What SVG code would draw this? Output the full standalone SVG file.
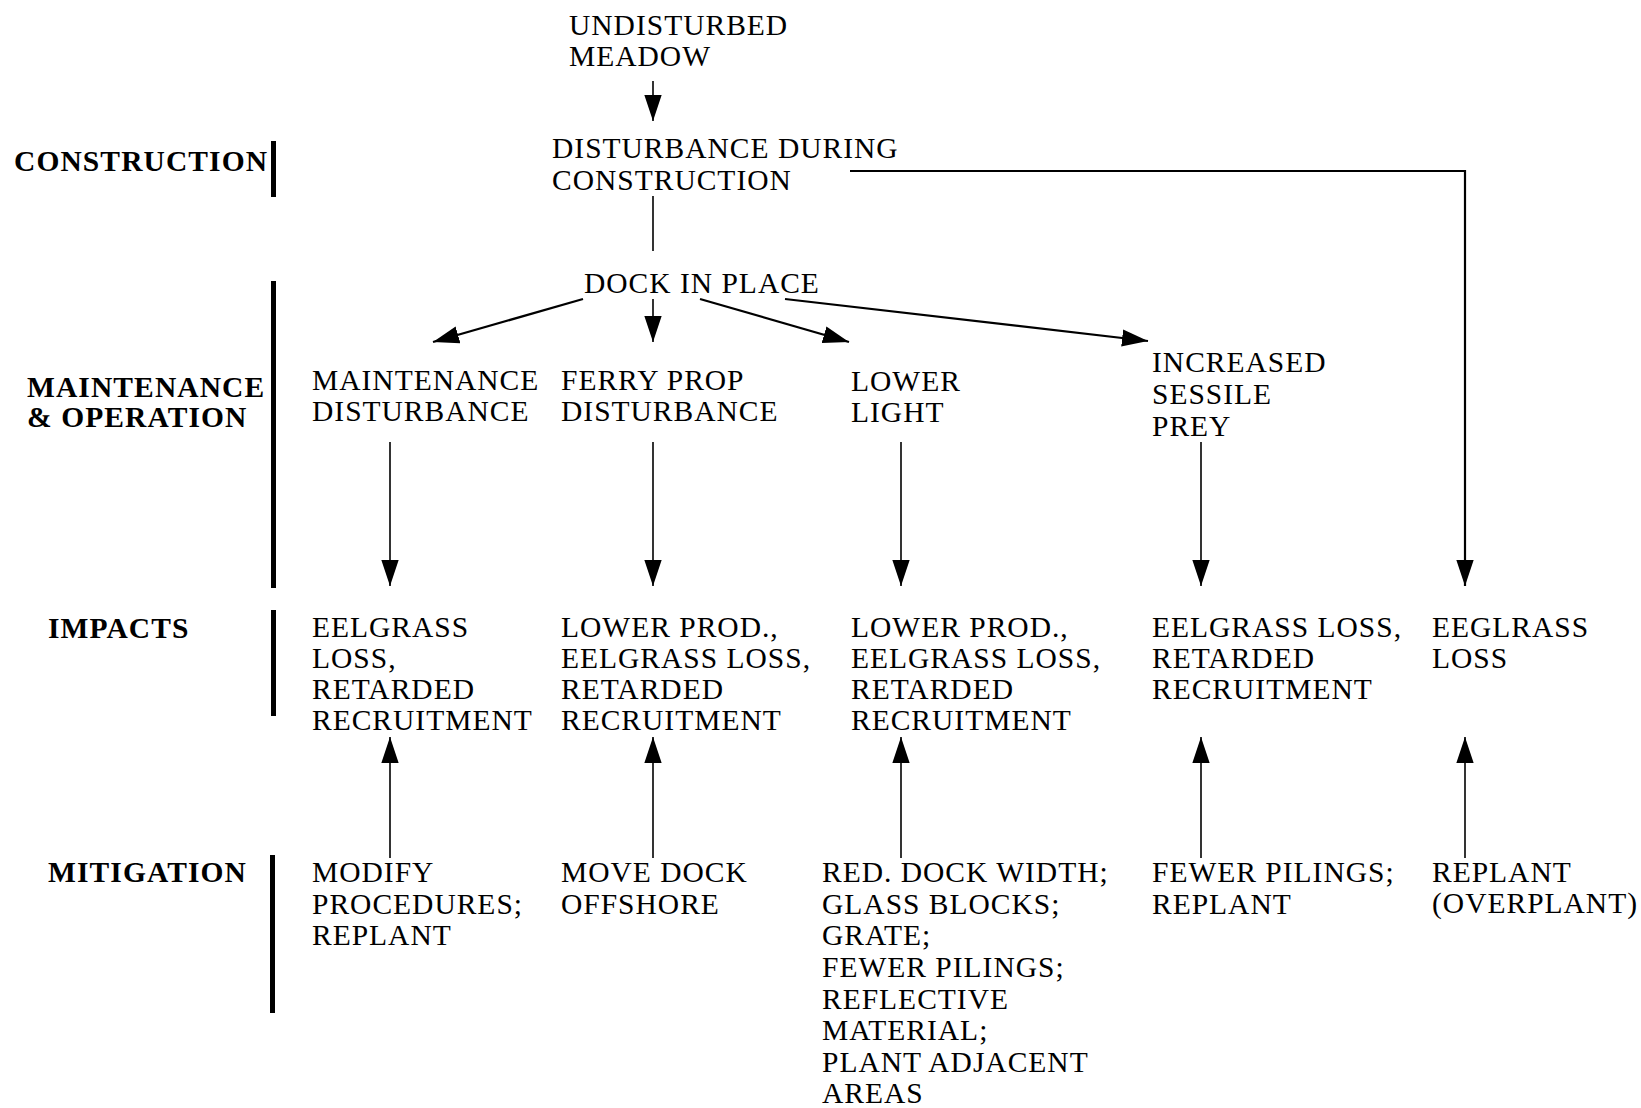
<svg xmlns="http://www.w3.org/2000/svg" width="1641" height="1108" viewBox="0 0 1641 1108">
<defs>
<marker id="ah" markerUnits="userSpaceOnUse" markerWidth="26" markerHeight="18" viewBox="0 0 24 16" refX="24" refY="8" orient="auto">
<path d="M0,0 L24,8 L0,16 z" fill="#000"/>
</marker>
<style>
text{font-family:"Liberation Serif","Times New Roman",serif;font-size:29.5px;letter-spacing:1px;fill:#000}
.lab{font-weight:bold;letter-spacing:1.1px}
.bar{fill:#000}
.c{fill:none;stroke:#000;stroke-width:1.6}
.d{fill:none;stroke:#000;stroke-width:2.2}
.a{marker-end:url(#ah)}
</style>
</defs>
<rect width="1641" height="1108" fill="#fff"/>

<g id="phase-labels">
<g id="lab-construction"><text class="lab" x="14" y="171">CONSTRUCTION</text><rect class="bar" x="271" y="141" width="5" height="56"/></g>
<g id="lab-maintenance"><text class="lab" x="27" y="397">MAINTENANCE</text><text class="lab" x="27" y="427">&amp; OPERATION</text><rect class="bar" x="271" y="281" width="5" height="307"/></g>
<g id="lab-impacts"><text class="lab" x="48" y="638">IMPACTS</text><rect class="bar" x="271" y="610" width="5" height="106"/></g>
<g id="lab-mitigation"><text class="lab" x="48" y="882">MITIGATION</text><rect class="bar" x="270" y="855" width="5" height="158"/></g>
</g>

<g id="n-undisturbed"><text x="569" y="35">UNDISTURBED</text><text x="569" y="66">MEADOW</text></g>
<g id="n-disturbance"><text x="552" y="158">DISTURBANCE DURING</text><text x="552" y="190">CONSTRUCTION</text></g>
<g id="n-dock"><text x="584" y="293">DOCK IN PLACE</text></g>

<g id="n-maint"><text x="312" y="390">MAINTENANCE</text><text x="312" y="421">DISTURBANCE</text></g>
<g id="n-ferry"><text x="561" y="390">FERRY PROP</text><text x="561" y="421">DISTURBANCE</text></g>
<g id="n-light"><text x="851" y="391">LOWER</text><text x="851" y="422">LIGHT</text></g>
<g id="n-prey"><text x="1152" y="372">INCREASED</text><text x="1152" y="404">SESSILE</text><text x="1152" y="436">PREY</text></g>

<g id="i-maint"><text x="312" y="637">EELGRASS</text><text x="312" y="668">LOSS,</text><text x="312" y="699">RETARDED</text><text x="312" y="730">RECRUITMENT</text></g>
<g id="i-ferry"><text x="561" y="637">LOWER PROD.,</text><text x="561" y="668">EELGRASS LOSS,</text><text x="561" y="699">RETARDED</text><text x="561" y="730">RECRUITMENT</text></g>
<g id="i-light"><text x="851" y="637">LOWER PROD.,</text><text x="851" y="668">EELGRASS LOSS,</text><text x="851" y="699">RETARDED</text><text x="851" y="730">RECRUITMENT</text></g>
<g id="i-prey"><text x="1152" y="637">EELGRASS LOSS,</text><text x="1152" y="668">RETARDED</text><text x="1152" y="699">RECRUITMENT</text></g>
<g id="i-constr"><text x="1432" y="637">EEGLRASS</text><text x="1432" y="668">LOSS</text></g>

<g id="m-maint"><text x="312" y="882">MODIFY</text><text x="312" y="914">PROCEDURES;</text><text x="312" y="945">REPLANT</text></g>
<g id="m-ferry"><text x="561" y="882">MOVE DOCK</text><text x="561" y="914">OFFSHORE</text></g>
<g id="m-light"><text x="822" y="882">RED. DOCK WIDTH;</text><text x="822" y="914">GLASS BLOCKS;</text><text x="822" y="945">GRATE;</text><text x="822" y="977">FEWER PILINGS;</text><text x="822" y="1009">REFLECTIVE</text><text x="822" y="1040">MATERIAL;</text><text x="822" y="1072">PLANT ADJACENT</text><text x="822" y="1103">AREAS</text></g>
<g id="m-prey"><text x="1152" y="882">FEWER PILINGS;</text><text x="1152" y="914">REPLANT</text></g>
<g id="m-constr"><text x="1432" y="882">REPLANT</text><text x="1432" y="913">(OVERPLANT)</text></g>

<g id="connectors">
<line class="c a" x1="653" y1="81" x2="653" y2="121"/>
<line class="c" x1="653" y1="196" x2="653" y2="251"/>
<polyline class="d a" points="850,171 1465,171 1465,586"/>
<line class="d a" x1="583" y1="299" x2="433" y2="342"/>
<line class="c a" x1="653" y1="299" x2="653" y2="342"/>
<line class="d a" x1="700" y1="299" x2="849" y2="342"/>
<line class="d a" x1="785" y1="299" x2="1148" y2="341"/>
<line class="c a" x1="390" y1="442" x2="390" y2="586"/>
<line class="c a" x1="653" y1="442" x2="653" y2="586"/>
<line class="c a" x1="901" y1="442" x2="901" y2="586"/>
<line class="c a" x1="1201" y1="442" x2="1201" y2="586"/>
<line class="c a" x1="390" y1="858" x2="390" y2="737"/>
<line class="c a" x1="653" y1="858" x2="653" y2="737"/>
<line class="c a" x1="901" y1="858" x2="901" y2="737"/>
<line class="c a" x1="1201" y1="858" x2="1201" y2="737"/>
<line class="c a" x1="1465" y1="858" x2="1465" y2="737"/>
</g>
</svg>
